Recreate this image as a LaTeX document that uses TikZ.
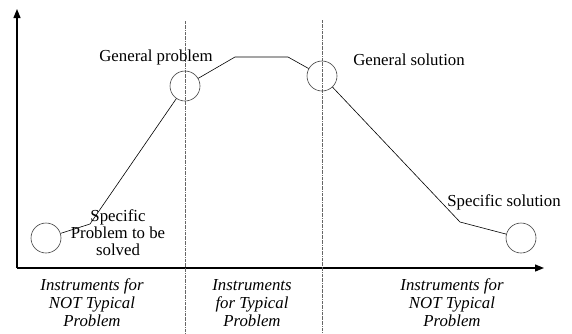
\documentclass[tikz,border=0pt]{standalone}
\usepackage{fontspec}
\setmainfont{Liberation Serif}
\usepackage{tikz}
\usetikzlibrary{arrows.meta}
\tikzset{%
  axis/.style = {-{Triangle[length=9pt,width=7pt]},line width=1.2pt},
  guide/.style = {densely dashdotted,line width=0.4pt,black!60},
  stage/.style = {circle,draw,black!75,line width=0.6pt,minimum size=30pt,
        inner sep=0pt},
  lbl/.style = {font=\fontsize{16.8}{17}\selectfont,align=center},
  instr/.style = {font=\fontsize{16.8}{18}\selectfont\itshape,align=center}
}
\begin{document}
\begin{tikzpicture}[x=1pt,y=-1pt]
    \useasboundingbox (0,0) rectangle (572,333);
    % axes
    \coordinate (o) at (17,268);
    \coordinate (ytop) at (17,9);
    \coordinate (xend) at (544,268);
    \draw[axis] (o) -- (ytop);
    \draw[axis] (o) -- (xend);
    % guide lines
    \coordinate (g1a) at (185,21);
    \coordinate (g1b) at (185,333);
    \coordinate (g2a) at (322,20);
    \coordinate (g2b) at (322,333);
    \draw[guide] (g1a) -- (g1b);
    \draw[guide] (g2a) -- (g2b);
    % stages
    \node[stage] (sp) at (46,238) {};
    \node[stage] (gp) at (185,86) {};
    \node[stage] (gs) at (322,76) {};
    \node[stage] (ss) at (521,238) {};
    \coordinate (k1) at (90,224);
    \coordinate (k2) at (235,57);
    \coordinate (k3) at (288,57);
    \coordinate (k4) at (460,222);
    \draw[line width=0.6pt] (sp) -- (k1) -- (gp) -- (k2) -- (k3) -- (gs)
        -- (k4) -- (ss);
    % labels
    \node[lbl,anchor=base] (tgp) at (156,61) {General problem};
    \node[lbl,anchor=base] (tgs) at (409,65) {General solution};
    \node[lbl,anchor=base] (tss) at (504,206) {Specific solution};
    \node[lbl] (tsp) at (118,233) {Specific\\Problem to be\\solved};
    % instruments
    \node[instr] (i1) at (92,303) {Instruments for\\NOT Typical\\Problem};
    \node[instr] (i2) at (252,303) {Instruments\\for Typical\\Problem};
    \node[instr] (i3) at (452,303) {Instruments for\\NOT Typical\\Problem};
\end{tikzpicture}
\end{document}
